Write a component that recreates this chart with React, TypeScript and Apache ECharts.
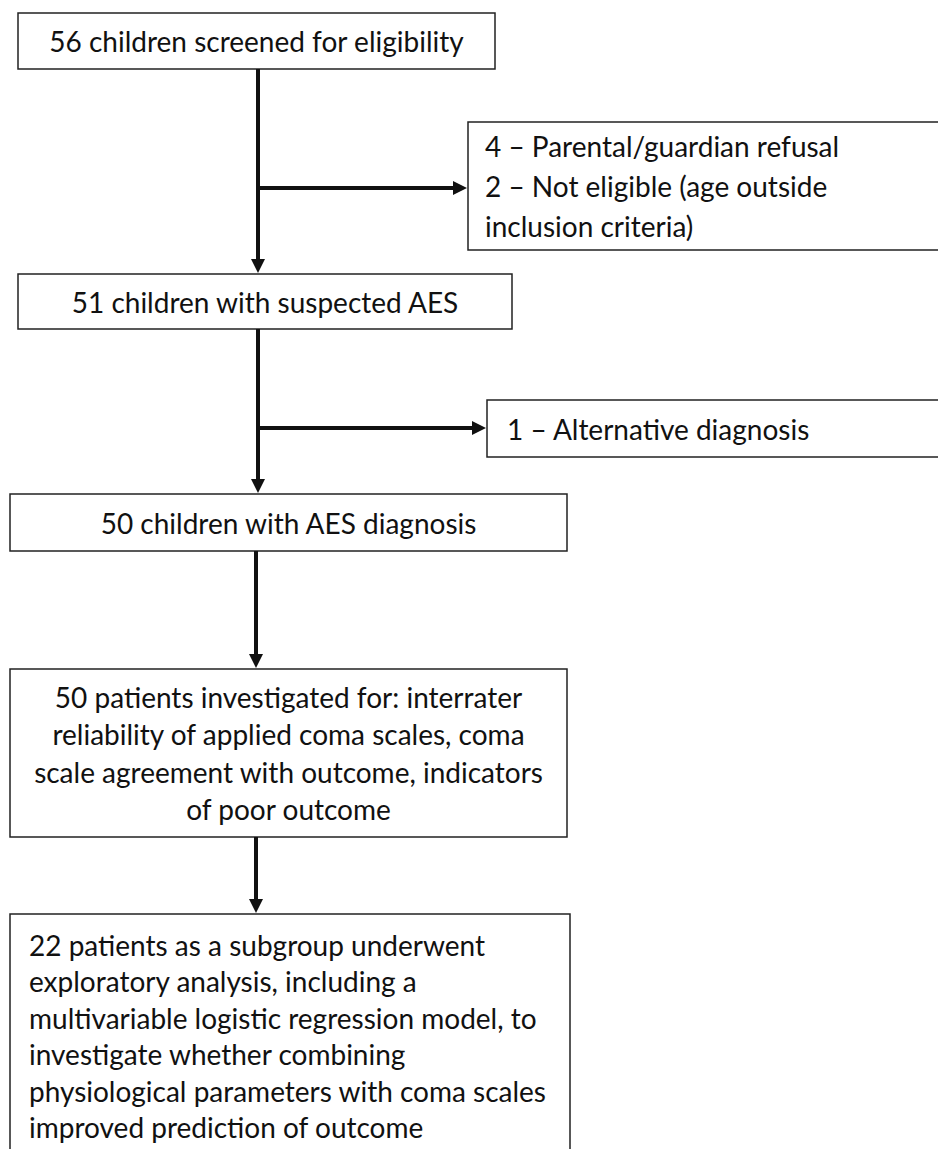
import React, { useEffect, useRef } from "react";
import * as echarts from "echarts";

// Flow-chart content
const mainSteps: string[] = [
  "56 children screened for eligibility",
  "51 children with suspected AES",
  "50 children with AES diagnosis",
  "50 patients investigated for: interrater\nreliability of applied coma scales, coma\nscale agreement with outcome, indicators\nof poor outcome",
  "22 patients as a subgroup underwent\nexploratory analysis, including a\nmultivariable logistic regression model, to\ninvestigate whether combining\nphysiological parameters with coma scales\nimproved prediction of outcome",
];
const exclusionSteps: string[] = [
  "4 – Parental/guardian refusal\n2 – Not eligible (age outside\ninclusion criteria)",
  "1 – Alternative diagnosis",
];

// Layout (positions / sizes)
const mainLayout = [
  { x: 18, y: 13, w: 477, h: 56, align: "center", lh: 38 },
  { x: 18, y: 274, w: 494, h: 55, align: "center", lh: 38 },
  { x: 10, y: 494, w: 557, h: 57, align: "center", lh: 38 },
  { x: 10, y: 669, w: 557, h: 168, align: "center", lh: 37.3 },
  { x: 10, y: 914, w: 560, h: 260, align: "left", tx: 29, ty: 1036, lh: 36.4 },
];
const exclusionLayout = [
  { x: 468, y: 122, w: 500, h: 128, tx: 485, lh: 40, from: 0, branchY: 188 },
  { x: 487, y: 400, w: 480, h: 57, tx: 507, lh: 40, from: 1, branchY: 428 },
];
const arrowX = [258, 258, 256, 256];

const FONT = "Lato";
const FS = 28;
const INK = "#111";

function arrowDown(x: number, y1: number, y2: number): any[] {
  const head = 14;
  return [
    { type: "line", shape: { x1: x, y1, x2: x, y2: y2 - head + 1 }, style: { stroke: INK, lineWidth: 4 } },
    { type: "polygon", shape: { points: [[x - 7, y2 - head], [x + 7, y2 - head], [x, y2]] }, style: { fill: INK } },
  ];
}
function arrowRight(x1: number, x2: number, y: number): any[] {
  const head = 14;
  return [
    { type: "line", shape: { x1, y1: y, x2: x2 - head + 1, y2: y }, style: { stroke: INK, lineWidth: 4 } },
    { type: "polygon", shape: { points: [[x2 - head, y - 7], [x2 - head, y + 7], [x2, y]] }, style: { fill: INK } },
  ];
}

function buildGraphics(): any[] {
  const els: any[] = [];
  mainSteps.forEach((txt, i) => {
    const b = mainLayout[i];
    els.push({
      type: "rect",
      shape: { x: b.x, y: b.y, width: b.w, height: b.h },
      style: { fill: "#fff", stroke: "#222", lineWidth: 1.5 },
    });
    const center = b.align === "center";
    els.push({
      type: "text",
      x: center ? b.x + b.w / 2 : (b as any).tx,
      y: (b as any).ty ?? b.y + b.h / 2,
      style: {
        text: txt,
        fill: INK,
        fontFamily: FONT,
        fontSize: FS,
        lineHeight: b.lh,
        align: center ? "center" : "left",
        verticalAlign: "middle",
      },
    });
  });
  // vertical arrows between main boxes
  for (let i = 0; i < mainSteps.length - 1; i++) {
    const a = mainLayout[i];
    const b = mainLayout[i + 1];
    els.push(...arrowDown(arrowX[i], a.y + a.h, b.y - 1));
  }
  exclusionSteps.forEach((txt, i) => {
    const e = exclusionLayout[i];
    els.push({
      type: "rect",
      shape: { x: e.x, y: e.y, width: e.w, height: e.h },
      style: { fill: "#fff", stroke: "#222", lineWidth: 1.5 },
    });
    els.push({
      type: "text",
      x: e.tx,
      y: e.y + e.h / 2,
      style: {
        text: txt,
        fill: INK,
        fontFamily: FONT,
        fontSize: FS,
        lineHeight: e.lh,
        align: "left",
        verticalAlign: "middle",
      },
    });
    els.push(...arrowRight(arrowX[e.from] - 2, e.x - 1, e.branchY));
  });
  return els;
}

export default function App() {
  const ref = useRef<HTMLDivElement>(null);
  useEffect(() => {
    if (!ref.current) return;
    const chart = echarts.init(ref.current, undefined, { renderer: "svg" });
    chart.setOption({
      animation: false,
      backgroundColor: "#fff",
      graphic: { elements: buildGraphics() },
    });
    return () => chart.dispose();
  }, []);
  return (
    <div
      ref={ref}
      style={{ position: "absolute", left: 0, top: 0, width: 938, height: 1149, background: "#fff" }}
    />
  );
}
